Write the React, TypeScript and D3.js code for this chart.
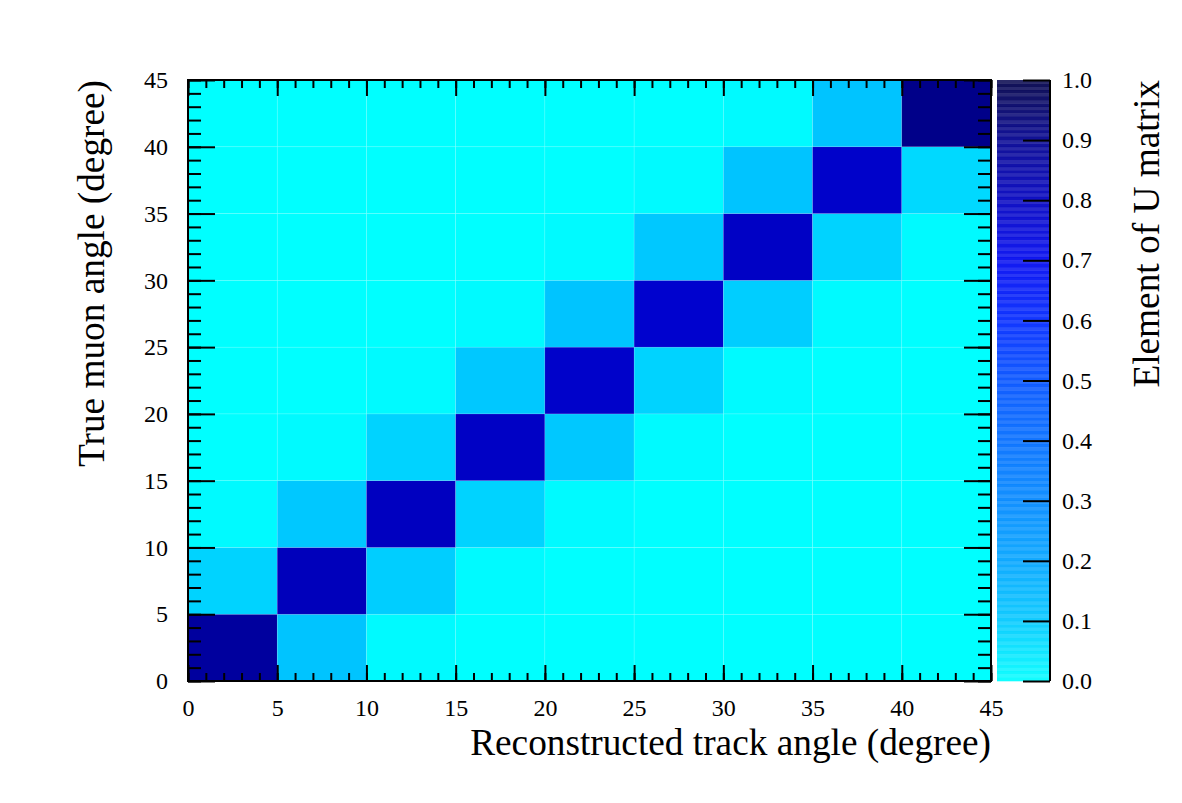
import React, { useEffect, useRef } from 'react'
import * as d3 from 'd3'

// bin edges (degrees), same binning on both axes
const binEdges = [0, 5, 10, 15, 20, 25, 30, 35, 40, 45]
const axisTicks = [0, 5, 10, 15, 20, 25, 30, 35, 40, 45]
const zTicks = [0, 0.1, 0.2, 0.3, 0.4, 0.5, 0.6, 0.7, 0.8, 0.9, 1.0]

// U matrix: rows = true muon angle bin, columns = reconstructed track angle bin
const row0 = [0.87, 0.11, 0.01, 0, 0, 0, 0, 0, 0]
const row1 = [0.08, 0.81, 0.09, 0.01, 0, 0, 0, 0, 0]
const row2 = [0.01, 0.1, 0.8, 0.08, 0.01, 0, 0, 0, 0]
const row3 = [0, 0.01, 0.08, 0.79, 0.1, 0.01, 0, 0, 0]
const row4 = [0, 0, 0.01, 0.1, 0.78, 0.08, 0.01, 0, 0]
const row5 = [0, 0, 0, 0.01, 0.11, 0.77, 0.09, 0.01, 0]
const row6 = [0, 0, 0, 0, 0.01, 0.1, 0.79, 0.08, 0.01]
const row7 = [0, 0, 0, 0, 0, 0.01, 0.11, 0.78, 0.07]
const row8 = [0, 0, 0, 0, 0, 0, 0.01, 0.11, 0.91]
const uMatrix = [row0, row1, row2, row3, row4, row5, row6, row7, row8]

const paletteStops = [0, 0.1, 0.2, 0.3, 0.4, 0.5, 0.6, 0.7, 0.8, 0.9, 1.0]
const paletteColors = ['#00ffff', '#00c8ff', '#00a4ff', '#0088ff', '#006cff', '#0050ff',
  '#0028ff', '#0008f0', '#0000c0', '#000090', '#000048']

const FONT = '"Liberation Serif", "Times New Roman", serif'

function App() {
  const ref = useRef<SVGSVGElement>(null)

  useEffect(() => {
    const width = 1182, height = 803
    const frame = { left: 188, right: 991, top: 80, bottom: 681 }
    const bar = { left: 997, right: 1050 }

    const svg = d3.select(ref.current)
    svg.selectAll('*').remove()
    svg.attr('width', width).attr('height', height)
    svg.append('rect').attr('width', width).attr('height', height).attr('fill', 'white')

    const x = d3.scaleLinear().domain([0, 45]).range([frame.left, frame.right])
    const y = d3.scaleLinear().domain([0, 45]).range([frame.bottom, frame.top])
    const z = d3.scaleLinear().domain([0, 1]).range([frame.bottom, frame.top])
    const color = d3.scaleLinear<string>().domain(paletteStops).range(paletteColors)
      .interpolate(d3.interpolateRgb).clamp(true)

    // cells
    const cells = uMatrix.flatMap((row, i) => row.map((v, j) => ({ i, j, v })))
    svg.append('g').selectAll('rect')
      .data(cells)
      .enter()
      .append('rect')
      .attr('x', d => x(binEdges[d.j]))
      .attr('y', d => y(binEdges[d.i + 1]))
      .attr('width', d => x(binEdges[d.j + 1]) - x(binEdges[d.j]))
      .attr('height', d => y(binEdges[d.i]) - y(binEdges[d.i + 1]))
      .attr('fill', d => color(d.v))
      .attr('stroke', '#ffffff')
      .attr('stroke-opacity', 0.18)
      .attr('stroke-width', 0.6)

    // colour bar, drawn as many thin bands
    const nBands = 180
    const bands = d3.range(nBands).map(k => k / nBands)
    svg.append('g').selectAll('rect')
      .data(bands)
      .enter()
      .append('rect')
      .attr('x', bar.left)
      .attr('y', d => z(d + 1 / nBands))
      .attr('width', bar.right - bar.left)
      .attr('height', z(0) - z(1 / nBands) + 0.3)
      .attr('fill', d => color(d + 0.5 / nBands))
      .attr('opacity', (d, k) => (k % 2 ? 0.84 : 0.93))

    const minor = d3.range(0, 46, 1)

    const styleAxis = (g: any) => {
      g.select('.domain').remove()
      g.selectAll('line').attr('stroke', 'black').attr('stroke-width', 2)
      g.selectAll('text').attr('font-family', FONT).attr('font-size', 24).attr('fill', 'black')
    }

    // bottom axis
    svg.append('g').attr('transform', `translate(0,${frame.bottom})`)
      .call(d3.axisBottom(x).tickValues(minor).tickSize(-8).tickFormat(() => ''))
      .call(styleAxis)
    svg.append('g').attr('transform', `translate(0,${frame.bottom})`)
      .call(d3.axisBottom(x).tickValues(axisTicks).tickSize(-16).tickPadding(18).tickFormat(d3.format('d')))
      .call(styleAxis)
    // top axis
    svg.append('g').attr('transform', `translate(0,${frame.top})`)
      .call(d3.axisTop(x).tickValues(minor).tickSize(-8).tickFormat(() => ''))
      .call(styleAxis)
    svg.append('g').attr('transform', `translate(0,${frame.top})`)
      .call(d3.axisTop(x).tickValues(axisTicks).tickSize(-16).tickFormat(() => ''))
      .call(styleAxis)
    // left axis
    svg.append('g').attr('transform', `translate(${frame.left},0)`)
      .call(d3.axisLeft(y).tickValues(minor).tickSize(-13).tickFormat(() => ''))
      .call(styleAxis)
    svg.append('g').attr('transform', `translate(${frame.left},0)`)
      .call(d3.axisLeft(y).tickValues(axisTicks).tickSize(-27).tickPadding(20).tickFormat(d3.format('d')))
      .call(styleAxis)
    // right axis
    svg.append('g').attr('transform', `translate(${frame.right},0)`)
      .call(d3.axisRight(y).tickValues(minor).tickSize(-13).tickFormat(() => ''))
      .call(styleAxis)
    svg.append('g').attr('transform', `translate(${frame.right},0)`)
      .call(d3.axisRight(y).tickValues(axisTicks).tickSize(-27).tickFormat(() => ''))
      .call(styleAxis)

    // frame
    svg.append('rect')
      .attr('x', frame.left).attr('y', frame.top)
      .attr('width', frame.right - frame.left).attr('height', frame.bottom - frame.top)
      .attr('fill', 'none').attr('stroke', 'black').attr('stroke-width', 2)

    // colour bar axis
    svg.append('g').attr('transform', `translate(${bar.right},0)`)
      .call(d3.axisRight(z).tickValues(zTicks).tickSize(-27).tickPadding(12).tickFormat(d3.format('.1f')))
      .call(styleAxis)
    svg.append('line')
      .attr('x1', bar.right).attr('x2', bar.right)
      .attr('y1', frame.top).attr('y2', frame.bottom)
      .attr('stroke', 'black').attr('stroke-width', 2)

    // titles
    svg.append('text')
      .attr('x', frame.right).attr('y', 755)
      .attr('text-anchor', 'end')
      .attr('font-family', FONT).attr('font-size', 37.3)
      .text('Reconstructed track angle (degree)')
    svg.append('text')
      .attr('transform', `translate(104,${frame.top}) rotate(-90)`)
      .attr('text-anchor', 'end')
      .attr('font-family', FONT).attr('font-size', 37.3)
      .text('True muon angle (degree)')
    svg.append('text')
      .attr('transform', `translate(1159,${frame.top}) rotate(-90)`)
      .attr('text-anchor', 'end')
      .attr('font-family', FONT).attr('font-size', 37.3)
      .text('Element of U matrix')
  }, [])

  return (
    <div style={{ position: 'absolute', left: 0, top: 0 }}>
      <svg ref={ref} style={{ display: 'block' }}></svg>
    </div>
  )
}

export default App
